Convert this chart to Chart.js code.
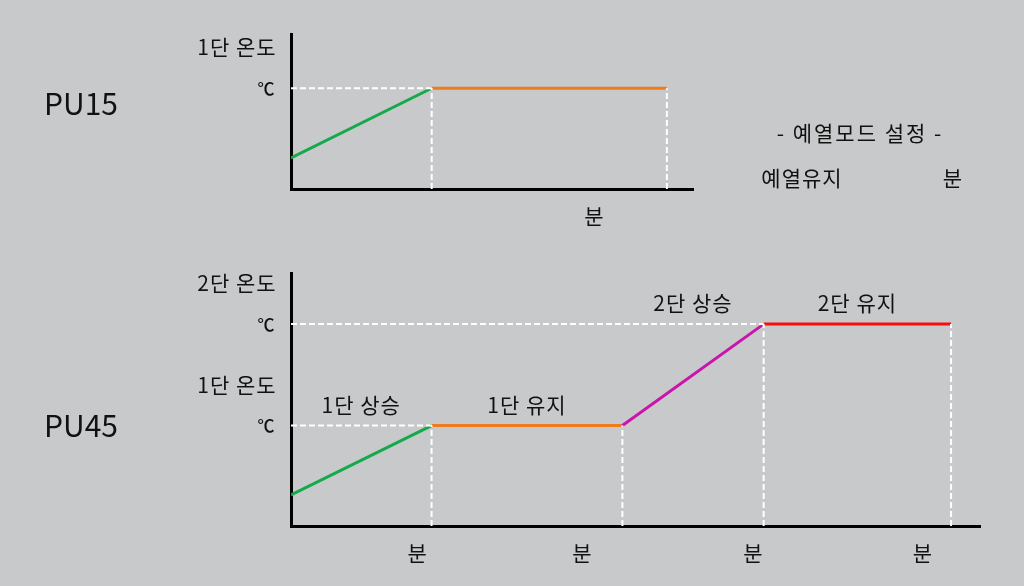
<!DOCTYPE html>
<html>
<head>
<meta charset="utf-8">
<script src="https://cdn.jsdelivr.net/npm/chart.js@4"></script>
<style>
  html, body { margin: 0; padding: 0; }
  body { width: 1024px; height: 586px; background: #c8c9cb; position: relative; overflow: hidden;
         font-family: "Noto Sans CJK KR", "Noto Sans", sans-serif; color: #111111; }
  canvas { position: absolute; left: 0; top: 0; }
  .t { position: absolute; transform: translate(-50%, -50%); white-space: nowrap; }
  .k { font-size: 21px; letter-spacing: 1px; }
</style>
</head>
<body>
<canvas id="pu15" width="1024" height="586"></canvas>
<canvas id="pu45" width="1024" height="586"></canvas>

<div class="t" style="left:81px; top:102px; font-size:30px;">PU15</div>
<div class="t" style="left:81px; top:424px; font-size:30px;">PU45</div>
<div class="t k" style="left:860px; top:132px; letter-spacing:2px;">- 예열모드 설정 -</div>
<div class="t k" style="left:802px; top:177px;">예열유지</div>
<div class="t k" style="left:953px; top:177px;">분</div>

<script>
// PU15 - one stage
const pu15Time = [0, 14, 37.4];
const pu15Temp = [20, 65, 65];
const pu15Colors = ['#14a94b', '#ee7b1c'];
const pu15TempLabels = ['1단 온도'];
const pu15TempLevels = [65];
const pu15MinuteAt = [30.2];
const pu15StageLabels = [];

// PU45 - two stages
const pu45Time = [0, 20.4, 48.1, 68.6, 95.8];
const pu45Temp = [12.3, 39.7, 39.7, 79.8, 79.8];
const pu45Colors = ['#14a94b', '#ee7b1c', '#c914ad', '#fa0d0d'];
const pu45TempLabels = ['1단 온도', '2단 온도'];
const pu45TempLevels = [39.7, 79.8];
const pu45MinuteAt = [18.4, 42.3, 67.1, 91.7];
const pu45StageLabels = ['1단 상승', '1단 유지', '2단 상승', '2단 유지'];

const FONT = '"Noto Sans CJK KR", "Noto Sans", sans-serif';

// white dashed guides: down from each breakpoint, and across to each level
function guidePoints(times, temps, levels) {
  const pts = [];
  for (let i = 1; i < times.length; i++) {
    pts.push({x: times[i], y: 0}, {x: times[i], y: temps[i]}, {x: times[i], y: null});
  }
  levels.forEach(lv => {
    const i = temps.indexOf(lv);
    pts.push({x: 0, y: lv}, {x: times[i], y: lv}, {x: times[i], y: null});
  });
  return pts;
}

const labelPlugin = {
  id: 'labels',
  afterDraw(chart, args, o) {
    const c = chart.ctx, xs = chart.scales.x, ys = chart.scales.y;
    c.save();
    c.fillStyle = '#111111';
    c.textAlign = 'center';
    c.textBaseline = 'middle';
    o.levels.forEach((lv, i) => {
      const py = ys.getPixelForValue(lv);
      c.letterSpacing = '0px';
      c.font = '500 17px ' + FONT;
      c.fillText('℃', xs.left - 25, py);
      c.letterSpacing = '1px';
      c.font = '21px ' + FONT;
      c.fillText(o.levelLabels[i], xs.left - 54, py - 41);
    });
    c.letterSpacing = '1px';
    c.font = '21px ' + FONT;
    o.minutes.forEach(m => c.fillText('분', xs.getPixelForValue(m), ys.bottom + 27));
    o.stages.forEach((s, i) => {
      const mx = (xs.getPixelForValue(o.times[i]) + xs.getPixelForValue(o.times[i + 1])) / 2;
      const top = Math.min(ys.getPixelForValue(o.temps[i]), ys.getPixelForValue(o.temps[i + 1]));
      c.fillText(s, mx, top - 21);
    });
    c.restore();
  }
};

function makeChart(id, times, temps, colors, levels, levelLabels, minutes, stages, xMax, pad) {
  new Chart(document.getElementById(id), {
    type: 'line',
    data: {
      datasets: [
        {
          data: guidePoints(times, temps, levels),
          borderColor: '#ffffff',
          borderWidth: 2,
          borderDash: [6, 3],
          pointRadius: 0,
          spanGaps: false
        },
        {
          data: times.map((t, i) => ({x: t, y: temps[i]})),
          borderWidth: 3,
          pointRadius: 0,
          segment: { borderColor: ctx => colors[ctx.p0DataIndex] }
        }
      ]
    },
    options: {
      responsive: false,
      animation: false,
      layout: { padding: pad },
      plugins: {
        legend: { display: false },
        tooltip: { enabled: false },
        labels: { times, temps, levels, levelLabels, minutes, stages }
      },
      scales: {
        x: {
          type: 'linear', min: 0, max: xMax,
          ticks: { display: false },
          grid: { display: false, drawTicks: false },
          border: { display: true, color: '#000000', width: 3 }
        },
        y: {
          type: 'linear', min: 0, max: 100,
          ticks: { display: false },
          grid: { display: false, drawTicks: false },
          border: { display: true, color: '#000000', width: 3 }
        }
      }
    },
    plugins: [labelPlugin]
  });
}

makeChart('pu15', pu15Time, pu15Temp, pu15Colors, pu15TempLevels, pu15TempLabels, pu15MinuteAt,
  pu15StageLabels, 40, {left: 291, right: 331, top: 34, bottom: 397});
makeChart('pu45', pu45Time, pu45Temp, pu45Colors, pu45TempLevels, pu45TempLabels, pu45MinuteAt,
  pu45StageLabels, 100, {left: 291, right: 44, top: 273, bottom: 60});
</script>
</body>
</html>
